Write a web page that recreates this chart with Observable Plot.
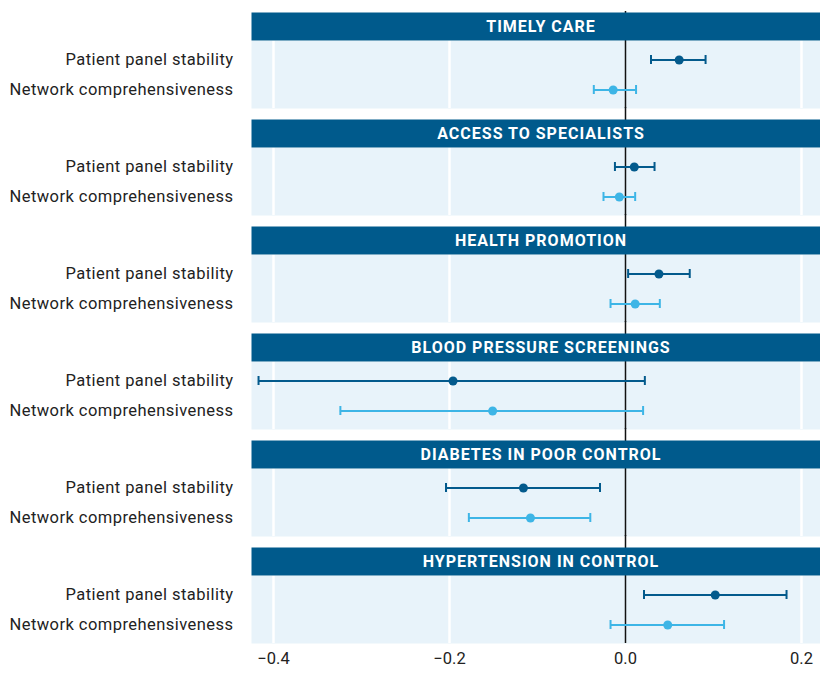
<!DOCTYPE html>
<html>
<head>
<meta charset="utf-8">
<script src="https://cdn.jsdelivr.net/npm/d3@7"></script>
<script src="https://cdn.jsdelivr.net/npm/@observablehq/plot@0.6"></script>
<style>
  html, body { margin: 0; padding: 0; background: white; }
  body { padding-top: 11px; }
  #chart svg { overflow: hidden !important; }
  #chart g[aria-label="y-axis tick label"] text { letter-spacing: 0.45px; }
  #chart g[aria-label="text"] text { letter-spacing: 1px; }
</style>
</head>
<body>
<div id="chart"></div>
<script>
const metrics = ["Timely care", "Access to specialists", "Health promotion", "Blood pressure screenings", "Diabetes in poor control", "Hypertension in control"];
const series = ["Patient panel stability", "Network comprehensiveness"];
const ppsEst = [0.061, 0.010, 0.038, -0.196, -0.116, 0.102];
const ppsLo  = [0.029, -0.012, 0.003, -0.417, -0.204, 0.021];
const ppsHi  = [0.091, 0.033, 0.073, 0.022, -0.029, 0.183];
const ncEst  = [-0.014, -0.007, 0.011, -0.151, -0.108, 0.048];
const ncLo   = [-0.036, -0.025, -0.017, -0.324, -0.178, -0.017];
const ncHi   = [0.012, 0.011, 0.039, 0.020, -0.040, 0.112];
const xTicks = [-0.4, -0.2, 0, 0.2];
const gridTicks = [-0.4, -0.2, 0.2];

const rows = [];
metrics.forEach((m, i) => {
  rows.push({metric: m, series: series[0], est: ppsEst[i], lo: ppsLo[i], hi: ppsHi[i]});
  rows.push({metric: m, series: series[1], est: ncEst[i], lo: ncLo[i], hi: ncHi[i]});
});

const H = 681, mTop = 0, mBottom = 48;
const padInner = 0.106;
const band = (H - mTop - mBottom) / (metrics.length - padInner) * (1 - padInner);
const headerH = 28;
const dark = "#035a8c", light = "#3db5e6";

const chart = Plot.plot({
  width: 820,
  height: H,
  marginTop: mTop,
  marginBottom: mBottom,
  marginLeft: 251,
  marginRight: 0,
  style: {fontFamily: "Roboto", fontSize: "16.5px", color: "#222", background: "white"},
  facet: {data: rows, y: "metric"},
  fy: {domain: metrics, paddingInner: padInner, paddingOuter: 0, axis: null, label: null},
  x: {domain: [-0.425, 0.2216], ticks: xTicks, tickFormat: d3.format(".1f"), tickSize: 0, tickPadding: 9, label: null},
  y: {type: "band", domain: series, insetTop: headerH, paddingInner: 0.7, paddingOuter: 0.483, tickSize: 0, tickPadding: 18, label: null},
  color: {domain: series, range: [dark, light]},
  marks: [
    Plot.frame({fill: "#e8f3fa", stroke: null, insetTop: headerH}),
    Plot.ruleX(gridTicks, {stroke: "white", strokeWidth: 2.5, insetTop: headerH}),
    Plot.ruleX([0], {stroke: "#111", strokeWidth: 1.5, insetTop: -12}),
    Plot.frame({fill: "#005a8c", stroke: null, insetBottom: band - headerH}),
    Plot.text(rows, Plot.selectFirst({text: d => d.metric.toUpperCase(), frameAnchor: "top", dy: headerH / 2, dx: 5, lineAnchor: "middle", fill: "white", fontWeight: "bold", fontSize: 16})),
    Plot.ruleY(rows, {y: "series", x1: "lo", x2: "hi", stroke: "series", strokeWidth: 2}),
    Plot.tickX(rows, {x: "lo", y: "series", stroke: "series", strokeWidth: 2}),
    Plot.tickX(rows, {x: "hi", y: "series", stroke: "series", strokeWidth: 2}),
    Plot.dot(rows, {x: "est", y: "series", fill: "series", r: 4.5})
  ]
});
document.getElementById("chart").append(chart);
</script>
</body>
</html>
